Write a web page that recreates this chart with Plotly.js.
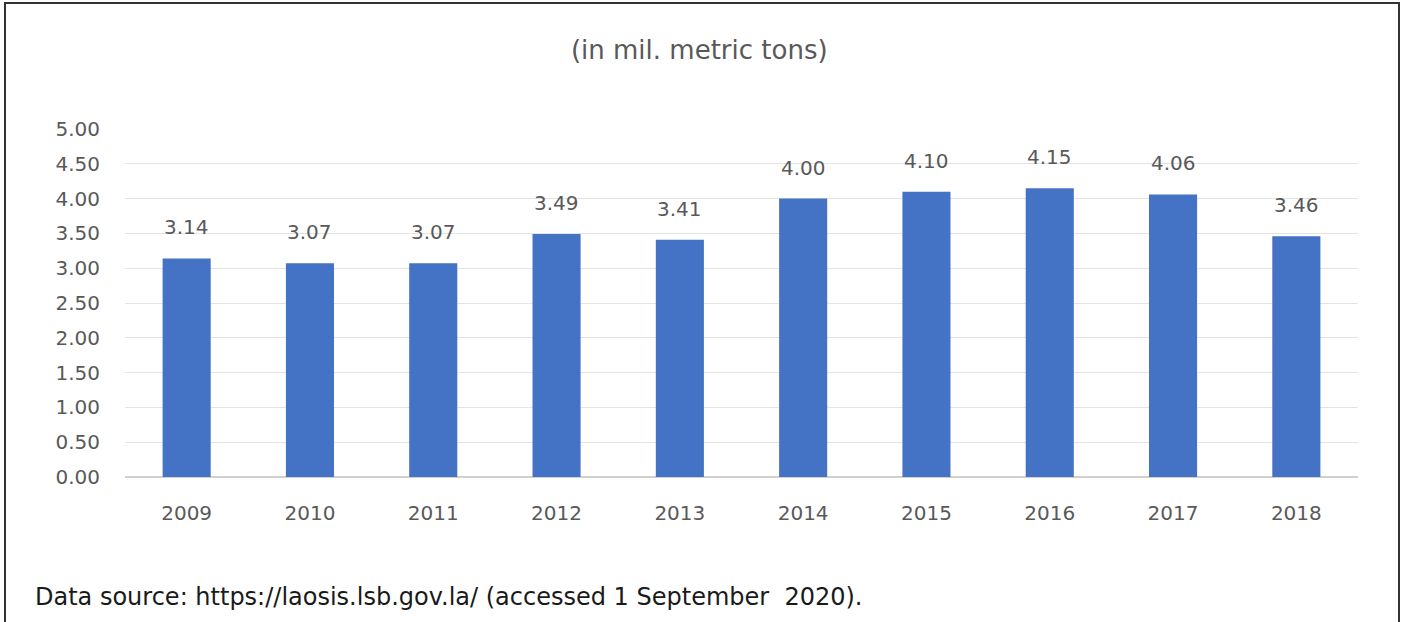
<!DOCTYPE html>
<html><head><meta charset="utf-8">
<script src="https://cdn.plot.ly/plotly-3.0.1.min.js"></script>
<style>
html,body{margin:0;padding:0;background:#fff;width:1407px;height:622px;overflow:hidden;}
#frame{position:absolute;left:4px;top:2px;width:1396px;height:640px;border:2px solid #333;border-bottom:none;box-sizing:border-box;}
#chart{position:absolute;left:0;top:0;width:1407px;height:622px;}
</style>
</head><body>
<div id="frame"></div>
<div id="chart"></div>
<script>
const years = ['2009','2010','2011','2012','2013','2014','2015','2016','2017','2018'];
const values = [3.14, 3.07, 3.07, 3.49, 3.41, 4.00, 4.10, 4.15, 4.06, 3.46];
const yTicks = [0,0.5,1,1.5,2,2.5,3,3.5,4,4.5,5];
const titleText = '(in mil. metric tons)';
const sourceText = 'Data source: https://laosis.lsb.gov.la/ (accessed 1 September  2020).';

const font = '"DejaVu Sans", sans-serif';

const labels = years.map((y,i)=>({
  x: i, y: values[i], xref:'x', yref:'y', text: values[i].toFixed(2),
  showarrow:false, yanchor:'bottom', yshift:17,
  font:{family:font, size:20, color:'#595959'}
}));

const layout = {
  width:1407, height:622,
  paper_bgcolor:'rgba(0,0,0,0)', plot_bgcolor:'rgba(0,0,0,0)',
  margin:{l:125, r:49, t:129, b:145},
  showlegend:false,
  bargap:0.61,
  title:{text:titleText, x:0.497, xref:'container', y:1-50/622, yanchor:'middle', yref:'container',
    font:{family:font, size:26, color:'#595959'}},
  xaxis:{type:'category', range:[-0.5, years.length-0.5], tickfont:{family:font, size:20, color:'#595959'},
    showgrid:false, zeroline:false, showline:false, ticks:'', ticklabelstandoff:22},
  yaxis:{range:[0,5], tickvals:yTicks, ticktext:yTicks.map(v=>v.toFixed(2)),
    tickfont:{family:font, size:20, color:'#595959'},
    showgrid:true, gridcolor:'#e3e3e3', gridwidth:1, zeroline:true, zerolinecolor:'#d0d0d0', zerolinewidth:1.5,
    showline:false, ticks:'', ticklabelstandoff:24},
  annotations: labels.concat([{
    text: sourceText, xref:'paper', yref:'paper', x:(33-125)/1233, y:(477-597)/348,
    xanchor:'left', yanchor:'middle', showarrow:false,
    font:{family:font, size:24, color:'#1a1a1a'}
  }])
};

Plotly.newPlot('chart', [{
  type:'bar', x:years, y:values, marker:{color:'#4472C4'}, hoverinfo:'none'
}], layout, {staticPlot:true, displayModeBar:false});
</script>
</body></html>
